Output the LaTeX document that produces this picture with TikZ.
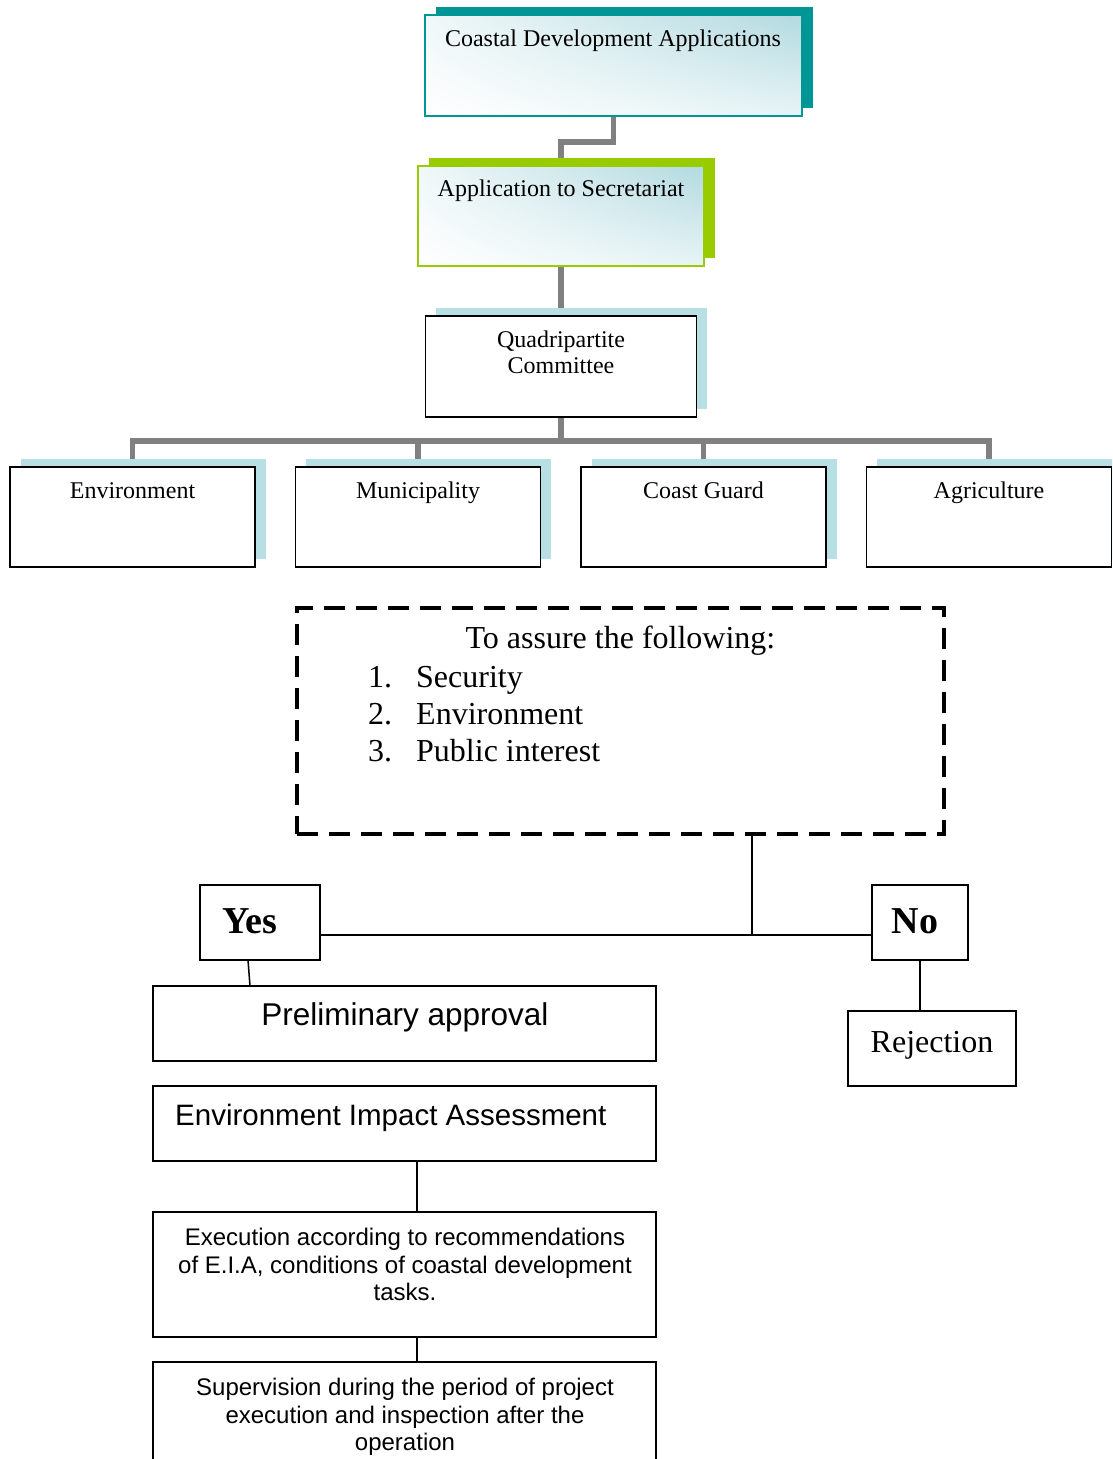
\documentclass[tikz,border=0pt]{standalone}
\usepackage{fontspec}
\setmainfont{Liberation Serif}
\setsansfont{Liberation Sans}
\usetikzlibrary{shadows,shadings,calc}
\definecolor{tealc}{RGB}{0,150,150}
\definecolor{greenc}{RGB}{153,204,0}
\definecolor{shblue}{RGB}{183,223,228}
\definecolor{gradblue}{RGB}{178,218,224}
\definecolor{conn}{RGB}{128,128,128}
\pgfdeclarelayer{bg}
\pgfsetlayers{bg,main}
\begin{document}
\begin{tikzpicture}[x=1pt,y=-1pt,
  box/.style={draw=black, line width=1.8pt, fill=white, inner sep=0pt, outer sep=0pt},
  sh/.style={general shadow={fill=#1, shadow xshift=10.5pt, shadow yshift=8pt}},
  grad/.style={shade, upper right=gradblue, upper left=white!80!gradblue, lower left=white, lower right=white!70!gradblue},
  txt/.style={inner sep=0pt, anchor=base, font=\fontsize{24}{28}\selectfont},
  bigtxt/.style={inner sep=0pt, anchor=base, font=\fontsize{32}{37}\selectfont},
  yn/.style={inner sep=0pt, anchor=base, font=\fontsize{38}{43}\selectfont\bfseries},
  sanstxt/.style={inner sep=0pt, anchor=base, font=\sffamily\fontsize{24}{27.5}\selectfont},
  gconn/.style={draw=conn, line width=5.5pt, line join=miter},
  tconn/.style={draw=black, line width=1.5pt},
  flow/.style={draw=black, line width=1.8pt, fill=white, inner sep=0pt, outer sep=0pt}
]
\useasboundingbox (0,0) rectangle (1112,1459);
\clip (0,0) rectangle (1112,1459);

% top chain
\node[box, grad, draw=tealc, sh=tealc, minimum width=377pt, minimum height=101pt] (cda) at (613.5,65.5) {};
\node[txt] (cdat) at (613,46.5) {Coastal Development Applications};

\node[box, grad, draw=greenc, sh=greenc, minimum width=286pt, minimum height=100pt] (ats) at (561,216) {};
\node[txt] (atst) at (561,196.5) {Application to Secretariat};

\node[box, sh=shblue, minimum width=271pt, minimum height=101pt] (qc) at (561,366.5) {};
\node[txt] (qct1) at (561,347) {Quadripartite};
\node[txt] (qct2) at (561,373.5) {Committee};

% four members
\node[box, sh=shblue, minimum width=245pt, minimum height=100pt] (env) at (132.5,517) {};
\node[txt] (envt) at (132.5,498) {Environment};
\node[box, sh=shblue, minimum width=245pt, minimum height=100pt] (mun) at (418,517) {};
\node[txt] (munt) at (418,498) {Municipality};
\node[box, sh=shblue, minimum width=245pt, minimum height=100pt] (cg) at (703.5,517) {};
\node[txt] (cgt) at (703.5,498) {Coast Guard};
\node[box, sh=shblue, minimum width=245pt, minimum height=100pt] (agr) at (989,517) {};
\node[txt] (agrt) at (989,498) {Agriculture};

\coordinate (bus) at (561,441);
\begin{pgfonlayer}{bg}
\fill[white] (0,0) rectangle (1112,1459);
\draw[gconn] (cda.south) -- ++(0,26) -| (ats.north);
\draw[gconn] (ats.south) -- (qc.north);
\draw[gconn] (qc.south) -- (bus);
\draw[gconn] (env.north) -- (env.north |- bus) -- (agr.north |- bus) -- (agr.north);
\draw[gconn] (mun.north) -- (mun.north |- bus);
\draw[gconn] (cg.north) -- (cg.north |- bus);
\end{pgfonlayer}

% condition box
\node[draw=black, line width=4pt, dash pattern=on 21pt off 11pt, inner sep=0pt, minimum width=647pt, minimum height=226pt] (cond) at (620.5,721) {};
\node[bigtxt] (condt) at (620.5,648) {To assure the following:};
\node[bigtxt, anchor=base west] (n1) at (368,687.5) {1.};
\node[bigtxt, anchor=base west] (l1) at (416,687.5) {Security};
\node[bigtxt, anchor=base west] (n2) at (368,724.5) {2.};
\node[bigtxt, anchor=base west] (l2) at (416,724.5) {Environment};
\node[bigtxt, anchor=base west] (n3) at (368,761.5) {3.};
\node[bigtxt, anchor=base west] (l3) at (416,761.5) {Public interest};

% yes / no
\node[flow, minimum width=120pt, minimum height=75pt] (yes) at (260,922.5) {};
\node[yn] (yest) at (249.5,933.5) {Yes};
\node[flow, minimum width=96pt, minimum height=75pt] (no) at (920,922.5) {};
\node[yn] (not) at (915,933.5) {No};

\coordinate (j) at (752,935);
\coordinate (ya) at (248,960);
\coordinate (yb) at (250,986);
\coordinate (c417) at (417,0);

\node[flow, minimum width=503pt, minimum height=75pt] (pa) at (404.5,1023.5) {};
\node[sanstxt, font=\sffamily\fontsize{31.5}{36}\selectfont] (pat) at (405,1025.5) {Preliminary approval};

\node[flow, minimum width=168pt, minimum height=75pt] (rej) at (932,1048.5) {};
\node[bigtxt] (rejt) at (932,1052) {Rejection};

\node[flow, minimum width=503pt, minimum height=75pt] (eia) at (404.5,1123.5) {};
\node[sanstxt, anchor=base west, font=\sffamily\fontsize{29.5}{34}\selectfont] (eiat) at (175,1125) {Environment Impact Assessment};

\node[flow, minimum width=503pt, minimum height=125pt] (ex) at (404.5,1274.5) {};
\node[sanstxt] (ext1) at (405,1245.5) {Execution according to recommendations};
\node[sanstxt] (ext2) at (405,1273) {of E.I.A, conditions of coastal development};
\node[sanstxt] (ext3) at (405,1300.5) {tasks.};

\node[flow, minimum width=503pt, minimum height=110pt] (sup) at (404.5,1417) {};
\node[sanstxt] (supt1) at (405,1395.5) {Supervision during the period of project};
\node[sanstxt] (supt2) at (405,1423) {execution and inspection after the};
\node[sanstxt] (supt3) at (405,1450.5) {operation};

\draw[tconn] (cond.south -| j) -- (j);
\draw[tconn] (yes.east |- j) -- (no.west |- j);
\draw[tconn] (ya) -- (yb);
\draw[tconn] (no.south) -- (no.south |- rej.north);
\draw[tconn] (eia.south -| c417) -- (ex.north -| c417);
\draw[tconn] (ex.south -| c417) -- (sup.north -| c417);
\end{tikzpicture}
\end{document}
